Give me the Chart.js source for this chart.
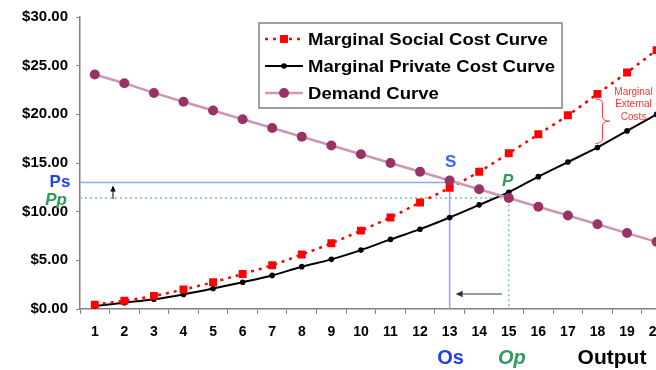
<!DOCTYPE html>
<html>
<head>
<meta charset="utf-8">
<script src="https://cdn.jsdelivr.net/npm/chart.js@4/dist/chart.umd.min.js"></script>
<style>
  html, body { margin: 0; padding: 0; overflow: hidden; background: #ffffff; }
  canvas { display: block; }
</style>
</head>
<body>
<canvas id="chart" width="677" height="370"></canvas>
<script>
// Output quantities on the horizontal axis
const outputs = [1, 2, 3, 4, 5, 6, 7, 8, 9, 10, 11, 12, 13, 14, 15, 16, 17, 18, 19, 20];

// Cost and demand schedules ($ per unit)
const socialCost  = [0.45, 0.85, 1.35, 2.0, 2.75, 3.6, 4.5, 5.6, 6.75, 8.05, 9.4, 10.95, 12.45, 14.1, 16.0, 17.95, 19.9, 22.1, 24.3, 26.6];
const privateCost = [0.3, 0.65, 1.0, 1.5, 2.1, 2.75, 3.45, 4.35, 5.1, 6.05, 7.15, 8.2, 9.4, 10.7, 12.0, 13.6, 15.1, 16.6, 18.3, 20.0];
const demand      = [24.1, 23.2, 22.2, 21.3, 20.4, 19.5, 18.6, 17.7, 16.8, 15.9, 15.0, 14.1, 13.2, 12.3, 11.4, 10.5, 9.6, 8.7, 7.8, 6.9];

// Equilibria: social optimum (S) and private market (P)
const priceSocial = 13.0;   // Ps
const pricePrivate = 11.4;  // Pp
const outputSocial = 13;    // Os
const outputPrivate = 15;   // Op
const externalityAt = 18;   // where the external-cost brace is drawn

const seriesNames = ['Marginal Social Cost Curve', 'Marginal Private Cost Curve', 'Demand Curve'];

const FONT = '"Liberation Sans", Arial, sans-serif';
const BLUE_LINE = '#8fa6f7';
const GREEN_LINE = '#7cc49a';

// Reference lines drawn beneath the curves
const guideLines = {
  id: 'guideLines',
  beforeDatasetsDraw(chart) {
    const { ctx, scales: { x, y } } = chart;
    const xs = x.getPixelForValue(outputSocial - 1);
    const xp = x.getPixelForValue(outputPrivate - 1);
    const ys = y.getPixelForValue(priceSocial);
    const yp = y.getPixelForValue(pricePrivate);
    const y0 = y.getPixelForValue(0);
    ctx.save();
    ctx.lineWidth = 1.5;
    ctx.strokeStyle = BLUE_LINE;
    ctx.beginPath();
    ctx.moveTo(x.left, ys); ctx.lineTo(xs, ys); ctx.lineTo(xs, y0);
    ctx.stroke();
    ctx.strokeStyle = GREEN_LINE;
    ctx.setLineDash([2, 3]);
    ctx.beginPath();
    ctx.moveTo(x.left, yp); ctx.lineTo(xp, yp); ctx.lineTo(xp, y0);
    ctx.stroke();
    ctx.restore();
  }
};

function arrow(ctx, x1, y1, x2, y2, head) {
  const a = Math.atan2(y2 - y1, x2 - x1);
  ctx.beginPath();
  ctx.moveTo(x1, y1);
  ctx.lineTo(x2 - Math.cos(a) * head * 0.8, y2 - Math.sin(a) * head * 0.8);
  ctx.stroke();
  ctx.beginPath();
  ctx.moveTo(x2, y2);
  ctx.lineTo(x2 - head * Math.cos(a) + head * 0.45 * Math.sin(a), y2 - head * Math.sin(a) - head * 0.45 * Math.cos(a));
  ctx.lineTo(x2 - head * Math.cos(a) - head * 0.45 * Math.sin(a), y2 - head * Math.sin(a) + head * 0.45 * Math.cos(a));
  ctx.closePath();
  ctx.fill();
}

function drawMarker(ctx, ds, cx, cy) {
  ctx.save();
  ctx.fillStyle = ds.pointBackgroundColor;
  if (ds.pointStyle === 'rect') {
    const s = ds.pointRadius * Math.SQRT1_2;
    ctx.fillRect(cx - s, cy - s, 2 * s, 2 * s);
  } else {
    ctx.beginPath();
    ctx.arc(cx, cy, ds.pointRadius, 0, Math.PI * 2);
    ctx.fill();
  }
  ctx.restore();
}

// Text drawn with a slight horizontal stretch
function wideText(ctx, text, x, y, stretch) {
  ctx.save();
  ctx.translate(x, y);
  ctx.scale(stretch, 1);
  ctx.fillText(text, 0, 0);
  ctx.restore();
}

// Legend box, labels, arrows and the external-cost brace
const annotations = {
  id: 'annotations',
  afterDraw(chart) {
    const { ctx, scales: { x, y } } = chart;
    const xs = x.getPixelForValue(outputSocial - 1);
    const xp = x.getPixelForValue(outputPrivate - 1);
    const ys = y.getPixelForValue(priceSocial);
    const yp = y.getPixelForValue(pricePrivate);
    ctx.save();

    // Legend
    const lx = 259, ly = 23, lw = 303, lh = 85;
    ctx.fillStyle = '#ffffff';
    ctx.fillRect(lx, ly, lw, lh);
    ctx.strokeStyle = '#808080';
    ctx.lineWidth = 1.5;
    ctx.strokeRect(lx, ly, lw, lh);
    chart.data.datasets.forEach((ds, i) => {
      const ry = 39 + i * 27;
      ctx.save();
      ctx.strokeStyle = ds.borderColor;
      ctx.lineWidth = ds.borderWidth;
      ctx.setLineDash(ds.borderDash || []);
      ctx.beginPath();
      ctx.moveTo(265, ry); ctx.lineTo(303, ry);
      ctx.stroke();
      ctx.restore();
      drawMarker(ctx, ds, 284, ry);
      ctx.fillStyle = '#000000';
      ctx.font = 'bold 17px ' + FONT;
      ctx.textAlign = 'left';
      ctx.textBaseline = 'middle';
      wideText(ctx, ds.label, 308, ry + 1, 1.09);
    });

    // Price and quantity labels
    ctx.textAlign = 'center';
    ctx.textBaseline = 'middle';
    ctx.font = 'bold 17px ' + FONT;
    ctx.fillStyle = '#1f3ff0';
    ctx.fillText('Ps', 60, ys);
    ctx.fillStyle = '#3366ff';
    ctx.fillText('S', xs + 1, ys - 20);
    ctx.font = 'italic bold 17px ' + FONT;
    ctx.fillStyle = '#2e9a5c';
    ctx.fillText('Pp', 56, yp + 2);
    ctx.fillText('P', xp - 1, yp - 17);

    ctx.font = 'bold 20px ' + FONT;
    ctx.fillStyle = '#1f3ff0';
    wideText(ctx, 'Os', xs + 1, 358, 1.0);
    ctx.fillStyle = '#000000';
    wideText(ctx, 'Output', 612, 358, 1.05);
    ctx.font = 'italic bold 20px ' + FONT;
    ctx.fillStyle = '#2e9a5c';
    wideText(ctx, 'Op', xp + 3, 358, 1.0);

    // Arrows
    ctx.strokeStyle = '#000000';
    ctx.fillStyle = '#000000';
    ctx.lineWidth = 1;
    arrow(ctx, 113, yp + 1, 113, ys + 3, 6);
    ctx.strokeStyle = '#333333';
    ctx.fillStyle = '#333333';
    arrow(ctx, xp - 7, 294, xs + 6, 294, 7);

    // Marginal external costs brace
    const bx = x.getPixelForValue(externalityAt - 1) - 2;
    const top = y.getPixelForValue(socialCost[externalityAt - 1]) + 5;
    const bot = y.getPixelForValue(privateCost[externalityAt - 1]) - 4;
    const mid = (top + bot) / 2;
    const w = 14, m = bx + w / 2, r = 5;
    ctx.strokeStyle = '#ff3333';
    ctx.lineWidth = 1;
    ctx.beginPath();
    ctx.moveTo(bx, top);
    ctx.quadraticCurveTo(m, top, m, top + r);
    ctx.lineTo(m, mid - r);
    ctx.quadraticCurveTo(m, mid, bx + w, mid);
    ctx.quadraticCurveTo(m, mid, m, mid + r);
    ctx.lineTo(m, bot - r);
    ctx.quadraticCurveTo(m, bot, bx, bot);
    ctx.stroke();
    ctx.fillStyle = '#ff3333';
    ctx.font = '10px ' + FONT;
    ctx.textAlign = 'center';
    ['Marginal', 'External', 'Costs'].forEach((t, i) => ctx.fillText(t, bx + 38, top - 7 + i * 12.5));

    ctx.restore();
  }
};

new Chart(document.getElementById('chart'), {
  type: 'line',
  data: {
    labels: outputs,
    datasets: [
      {
        label: seriesNames[0],
        data: socialCost,
        borderColor: '#ff0000',
        borderWidth: 2.5,
        borderDash: [3, 5],
        pointStyle: 'rect',
        pointRadius: 5.6,
        pointBackgroundColor: '#ff0000',
        pointBorderColor: '#ff0000',
        pointBorderWidth: 0,
        cubicInterpolationMode: 'monotone',
        order: 1
      },
      {
        label: seriesNames[1],
        data: privateCost,
        borderColor: '#000000',
        borderWidth: 2,
        pointStyle: 'circle',
        pointRadius: 2.8,
        pointBackgroundColor: '#000000',
        pointBorderColor: '#000000',
        pointBorderWidth: 0,
        cubicInterpolationMode: 'monotone',
        order: 2
      },
      {
        label: seriesNames[2],
        data: demand,
        borderColor: '#cc97b4',
        borderWidth: 2.5,
        pointStyle: 'circle',
        pointRadius: 5,
        pointBackgroundColor: '#993366',
        pointBorderColor: '#993366',
        pointBorderWidth: 0,
        order: 0
      }
    ]
  },
  options: {
    responsive: false,
    animation: false,
    events: [],
    layout: { padding: { top: 17, left: 0, right: 0, bottom: 0 } },
    plugins: { legend: { display: false }, tooltip: { enabled: false } },
    scales: {
      x: {
        offset: true,
        grid: { offset: true, drawOnChartArea: false, drawTicks: true, tickLength: 5, color: '#808080' },
        border: { color: '#808080', width: 1.5 },
        ticks: { color: '#000000', font: { family: FONT, size: 14, weight: 'bold' }, padding: 10, maxRotation: 0, autoSkip: false },
        afterFit(scale) { scale.height = 61; }
      },
      y: {
        min: 0,
        max: 30,
        grid: { drawOnChartArea: false, drawTicks: true, tickLength: 4, color: '#808080' },
        border: { color: '#808080', width: 1.5 },
        ticks: {
          stepSize: 5,
          color: '#000000',
          padding: 8,
          font: { family: FONT, size: 15, weight: 'bold' },
          callback: v => '$' + Number(v).toFixed(2)
        },
        afterFit(scale) { scale.width = 80; }
      }
    }
  },
  plugins: [guideLines, annotations]
});
</script>
</body>
</html>
